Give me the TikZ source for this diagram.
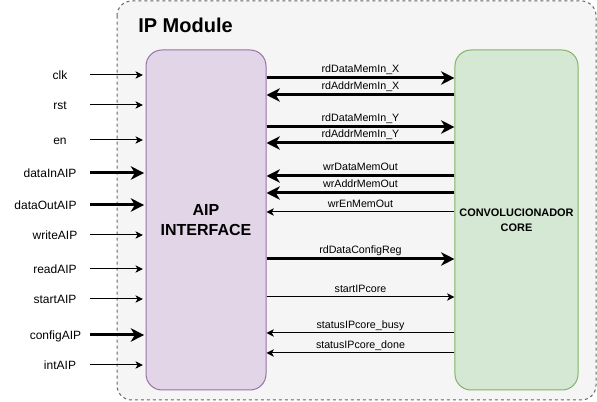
\documentclass[tikz,border=0pt]{standalone}
\usepackage{fontspec}
\setmainfont{Liberation Sans}
\usepackage{xcolor}
\usetikzlibrary{arrows.meta,positioning}
\definecolor{modfill}{HTML}{F5F5F5}
\definecolor{modline}{HTML}{666666}
\definecolor{aipfill}{HTML}{E1D5E7}
\definecolor{aipline}{HTML}{9673A6}
\definecolor{corefill}{HTML}{D5E8D4}
\definecolor{coreline}{HTML}{82B366}
\tikzset{%
	modulebox/.style={draw=modline, fill=modfill, line width=0.75pt, dash pattern=on 2.25pt off 2.25pt, rounded corners=11pt},
	aipnode/.style={draw=aipline, fill=aipfill, line width=0.75pt, rounded corners=12pt, minimum width=90pt, minimum height=255pt, align=center, font=\fontsize{12}{15}\selectfont\bfseries},
	corenode/.style={draw=coreline, fill=corefill, line width=0.75pt, rounded corners=12pt, minimum width=90.75pt, minimum height=255pt, align=center, font=\fontsize{8.2}{11.25}\selectfont\bfseries},
	inlabel/.style={inner sep=0pt, text height=6.5pt, text depth=0pt, font=\fontsize{9}{11}\selectfont},
	buslabel/.style={anchor=south, inner sep=1.8pt, text height=5.8pt, text depth=1.5pt, font=\fontsize{8}{9.5}\selectfont},
	tobus/.style={draw=black, line width=2.25pt, -{Stealth[length=10pt,width=10pt,inset=3pt]}},
	tosig/.style={draw=black, line width=0.75pt, -{Stealth[length=5.5pt,width=5.5pt,inset=1.5pt]}}}
\begin{document}
\begin{tikzpicture}[x=0.75pt, y=-0.75pt]
		\useasboundingbox (0,0) rectangle (597,402);
		\draw[modulebox] (117,1) rectangle (596,400);
		\node[anchor=west, inner sep=0pt, font=\fontsize{15}{18}\selectfont\bfseries] (title) at (138,25) {IP Module};
		
		\node[aipnode] (aip) at (206,220) {AIP\\INTERFACE};
		\node[corenode] (core) at (516.5,220) {CONVOLUCIONADOR\\CORE};
		
		% inputs of the interface
		\node[inlabel] (clk) at (60,75) {clk};
		\node[inlabel] (rst) at (60,105) {rst};
		\node[inlabel] (en) at (60,140) {en};
		\node[inlabel] (dataIn) at (50,173) {dataInAIP};
		\node[inlabel] (dataOut) at (45.5,205) {dataOutAIP};
		\node[inlabel] (write) at (55,235) {writeAIP};
		\node[inlabel] (read) at (55,269) {readAIP};
		\node[inlabel] (start) at (55,299) {startAIP};
		\node[inlabel] (config) at (55.5,335) {configAIP};
		\node[inlabel] (int) at (60,365) {intAIP};
		
		\coordinate (clkin) at (90,75);
		\coordinate (rstin) at (90,105);
		\coordinate (enin) at (90,140);
		\coordinate (dataInin) at (90,173);
		\coordinate (dataOutin) at (90,205);
		\coordinate (writein) at (90,235);
		\coordinate (readin) at (90,269);
		\coordinate (startin) at (90,299);
		\coordinate (configin) at (90,335);
		\coordinate (intin) at (90,365);
		
		\draw[tosig, shorten >=2pt] (clkin) -- (clkin -| aip.west);
		\draw[tosig, shorten >=2pt] (rstin) -- (rstin -| aip.west);
		\draw[tosig, shorten >=2pt] (enin) -- (enin -| aip.west);
		\draw[tobus, shorten >=1pt] (dataInin) -- (dataInin -| aip.west);
		\draw[tobus, shorten >=1pt] (dataOutin) -- (dataOutin -| aip.west);
		\draw[tosig, shorten >=2pt] (writein) -- (writein -| aip.west);
		\draw[tosig, shorten >=2pt] (readin) -- (readin -| aip.west);
		\draw[tosig, shorten >=2pt] (startin) -- (startin -| aip.west);
		\draw[tobus, shorten >=1pt] (configin) -- (configin -| aip.west);
		\draw[tosig, shorten >=2pt] (intin) -- (intin -| aip.west);
		
		% signals between interface and core
		\coordinate (rdx) at (0,78);
		\coordinate (rax) at (0,95);
		\coordinate (rdy) at (0,127);
		\coordinate (ray) at (0,143);
		\coordinate (wrd) at (0,176);
		\coordinate (wra) at (0,193);
		\coordinate (wre) at (0,212);
		\coordinate (rdc) at (0,259);
		\coordinate (stc) at (0,297);
		\coordinate (stb) at (0,333);
		\coordinate (std) at (0,353);
		
		\draw[tobus] (aip.east |- rdx) -- node[buslabel] (lrdx) {rdDataMemIn\_X} (core.west |- rdx);
		\draw[tobus] (core.west |- rax) -- node[buslabel] (lrax) {rdAddrMemIn\_X} (aip.east |- rax);
		\draw[tobus] (aip.east |- rdy) -- node[buslabel] (lrdy) {rdDataMemIn\_Y} (core.west |- rdy);
		\draw[tobus] (core.west |- ray) -- node[buslabel] (lray) {rdAddrMemIn\_Y} (aip.east |- ray);
		\draw[tobus] (core.west |- wrd) -- node[buslabel] (lwrd) {wrDataMemOut} (aip.east |- wrd);
		\draw[tobus] (core.west |- wra) -- node[buslabel] (lwra) {wrAddrMemOut} (aip.east |- wra);
		\draw[tosig] (core.west |- wre) -- node[buslabel] (lwre) {wrEnMemOut} (aip.east |- wre);
		\draw[tobus] (aip.east |- rdc) -- node[buslabel] (lrdc) {rdDataConfigReg} (core.west |- rdc);
		\draw[tosig] (aip.east |- stc) -- node[buslabel] (lstc) {startIPcore} (core.west |- stc);
		\draw[tosig] (core.west |- stb) -- node[buslabel] (lstb) {statusIPcore\_busy} (aip.east |- stb);
		\draw[tosig] (core.west |- std) -- node[buslabel] (lstd) {statusIPcore\_done} (aip.east |- std);
	\end{tikzpicture}
\end{document}
